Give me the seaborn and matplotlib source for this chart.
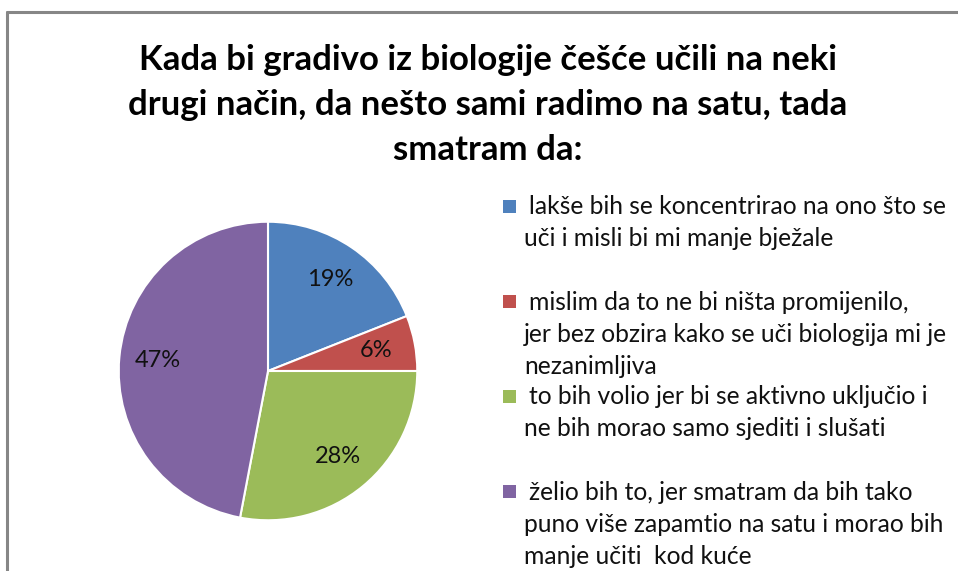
import matplotlib.pyplot as plt
import seaborn as sns
from matplotlib.patches import Rectangle
from matplotlib.lines import Line2D

sns.set_style('white')
plt.rcParams['font.family'] = ['Lato', 'DejaVu Sans']

# data
labels = [
    'lakše bih se koncentrirao na ono što se\nuči i misli bi mi manje bježale',
    'mislim da to ne bi ništa promijenilo,\njer bez obzira kako se uči biologija mi je\nnezanimljiva',
    'to bih volio jer bi se aktivno uključio i\nne bih morao samo sjediti i slušati',
    'želio bih to, jer smatram da bih tako\npuno više zapamtio na satu i morao bih\nmanje učiti  kod kuće',
]
values = [19, 6, 28, 47]
colors = ['#4F81BD', '#C0504D', '#9BBB59', '#8064A2']
title_lines = ['Kada bi gradivo iz biologije češće učili na neki',
               'drugi način, da nešto sami radimo na satu, tada',
               'smatram da:']

W, H = 958, 571
fig = plt.figure(figsize=(W / 100, H / 100), dpi=100)

# chart-area border (top and left edges visible)
border = '#868686'
fig.add_artist(Line2D([7 / W, 7 / W], [0, 1 - 12 / H], color=border, lw=2.2,
                      transform=fig.transFigure))
fig.add_artist(Line2D([7 / W, 1], [1 - 12 / H, 1 - 12 / H], color=border, lw=2.2,
                      transform=fig.transFigure))

for k, line in enumerate(title_lines):
    fig.text(488 / W, 1 - (60 + 45 * k) / H, line, ha='center', va='center',
             fontsize=25, fontweight='bold', color='#000000')

# pie
cx, cy, r = 268, 371, 150
ax = fig.add_axes([(cx - r) / W, 1 - (cy + r) / H, 2 * r / W, 2 * r / H])
ax.pie(values, colors=colors, startangle=90, counterclock=False,
       autopct='%1.0f%%', pctdistance=0.74,
       wedgeprops=dict(edgecolor='white', linewidth=1.5),
       textprops=dict(fontsize=17, color='#111111'))
ax.set_xlim(-1.005, 1.005)
ax.set_ylim(-1.005, 1.005)
ax.set_aspect('equal')
ax.axis('off')

# legend
for i, (lab, col) in enumerate(zip(labels, colors)):
    y0 = 207 + 95 * i
    fig.add_artist(Rectangle((503 / W, 1 - (y0 + 6) / H), 13 / W, 13 / H,
                             facecolor=col, edgecolor='none',
                             transform=fig.transFigure))
    for j, line in enumerate(lab.split('\n')):
        x = 529 if j == 0 else 524
        fig.text(x / W, 1 - (y0 + 32 * j) / H, line, ha='left', va='center',
                 fontsize=17.7, color='#111111')

fig.savefig('out.png', dpi=100)
